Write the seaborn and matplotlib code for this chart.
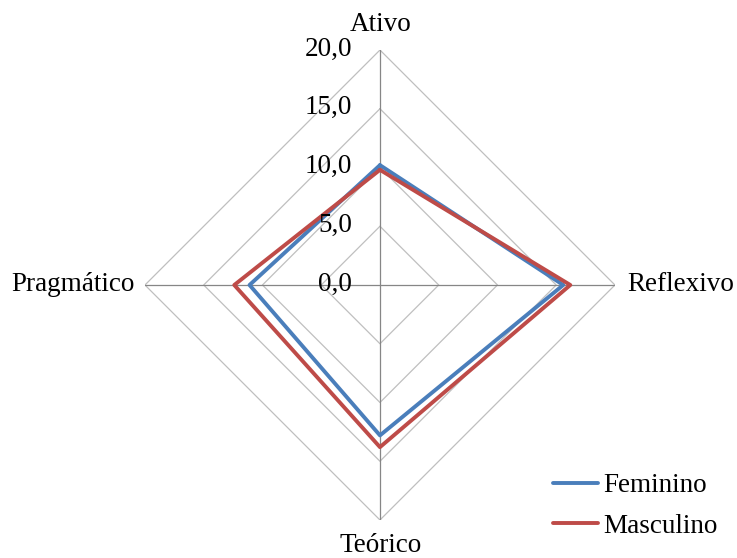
import numpy as np
import pandas as pd
import matplotlib
matplotlib.use("Agg")
import matplotlib.pyplot as plt
import matplotlib.transforms as mtransforms
from matplotlib.lines import Line2D
import seaborn as sns

categories = ["Ativo", "Reflexivo", "Teórico", "Pragmático"]
feminino = [10.2, 15.6, 12.8, 11.1]
masculino = [9.8, 16.2, 13.8, 12.4]
series_names = ["Feminino", "Masculino"]
ring_values = [0, 5, 10, 15, 20]
ring_labels = ["0,0", "5,0", "10,0", "15,0", "20,0"]

sns.set_theme(style="white")
plt.rcParams["font.family"] = ["Liberation Serif", "DejaVu Serif"]
plt.rcParams["text.color"] = "#000000"

FS = 19.5

n = len(categories)
angles = [2 * np.pi * i / n for i in range(n)]

rows = []
for name, vals in zip(series_names, [feminino, masculino]):
    for a, v in zip(angles + [2 * np.pi], vals + [vals[0]]):
        rows.append({"theta": a, "valor": v, "Sexo": name})
df = pd.DataFrame(rows)

fig = plt.figure(figsize=(7.37, 5.58), dpi=100)
ax = fig.add_axes([0.1967, 0.0681, 0.6377, 0.8423], projection="polar")
ax.set_theta_zero_location("N")
ax.set_theta_direction(-1)
ax.set_ylim(0, 20)
ax.grid(False)
ax.spines["polar"].set_visible(False)
ax.set_xticks([])
ax.set_yticks([])
ax.set_facecolor("none")

# diamond gridlines
for rv in ring_values[1:]:
    ax.plot(angles + [angles[0]], [rv] * (n + 1), color="#BFBFBF", lw=0.9, zorder=1)
# spokes
for a in angles:
    ax.plot([a, a], [0, 20], color="#868686", lw=0.9, zorder=1)

palette = {"Feminino": "#4A7EBB", "Masculino": "#BE4B48"}
sns.lineplot(data=df, x="theta", y="valor", hue="Sexo", sort=False, estimator=None,
             palette=palette, lw=2.8, ax=ax, legend=False, zorder=3)
ax.set_xlabel("")
ax.set_ylabel("")

def off(dx, dy):
    return ax.transData + mtransforms.ScaledTranslation(dx / 100, dy / 100, fig.dpi_scale_trans)

for rv, lab in zip(ring_values, ring_labels):
    ax.text(0, rv, lab, ha="right", va="center", fontsize=FS, color="#000000",
            transform=off(-28, 1), zorder=4)

label_offsets = [(1, 26, "center", "center"), (12, 0, "left", "center"),
                 (1, -26, "center", "center"), (-10, 0, "right", "center")]
for a, cat, (dx, dy, ha, va) in zip(angles, categories, label_offsets):
    ax.text(a, 20, cat, ha=ha, va=va, fontsize=FS, color="#000000", transform=off(dx, dy))

handles = [Line2D([0], [0], color=palette[s], lw=2.8) for s in series_names]
leg = fig.legend(handles, series_names, loc="upper left", bbox_to_anchor=(553 / 737, 1 - 473 / 558),
                 frameon=False, fontsize=FS, handlelength=1.67, handletextpad=0.19, labelspacing=0.58,
                 borderaxespad=0, borderpad=0)
for t in leg.get_texts():
    t.set_color("#000000")

fig.savefig("out.png", dpi=100)
